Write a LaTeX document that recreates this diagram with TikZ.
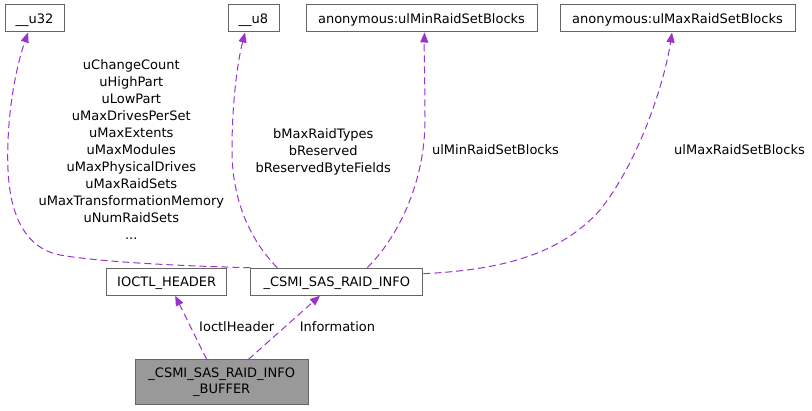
\documentclass[tikz,border=0pt]{standalone}
\usepackage{fontspec}
\setmainfont{DejaVu Sans}
\usetikzlibrary{arrows.meta,positioning}
\definecolor{edgepurple}{RGB}{154,50,205}
\definecolor{boxgray}{RGB}{102,102,102}
\definecolor{fillgray}{RGB}{153,153,153}

\begin{document}
\begin{tikzpicture}[x=1pt,y=-1pt,every node/.style={font=\fontsize{13}{17}\selectfont},
  cls/.style={draw=boxgray,line width=1pt,inner sep=0pt,minimum height=27pt,text height=9.5pt,text depth=0pt},
  rel/.style={draw=edgepurple,line width=1pt,dash pattern=on 7pt off 4pt,-{Triangle[length=10pt,width=8pt,fill=edgepurple]}},
  lbl/.style={inner sep=0pt,align=center}]
  \useasboundingbox (0,0) rectangle (812,411);
  % Member types
  \node[cls,minimum width=59pt] (u32) at (34.5,18.5) {\_\_u32};
  \node[cls,minimum width=51pt] (u8) at (253.5,18.5) {\_\_u8};
  \node[cls,minimum width=231pt] (umin) at (421.5,18.5) {anonymous:ulMinRaidSetBlocks};
  \node[cls,minimum width=235pt] (umax) at (677.5,18.5) {anonymous:ulMaxRaidSetBlocks};
  % Structs
  \node[cls,minimum width=120pt] (ioctl) at (166.7,281.7) {IOCTL\_HEADER};
  \node[cls,minimum width=172pt] (info) at (336.8,281.7) {\_CSMI\_SAS\_RAID\_INFO};
  \node[draw=boxgray,fill=fillgray,line width=1pt,inner sep=0pt,minimum width=173pt,minimum height=45pt,
    align=center,font=\fontsize{13}{16}\selectfont] (buf) at (221.7,382.5) {\_CSMI\_SAS\_RAID\_INFO\\\_BUFFER};
  % Edge labels
  \node[lbl] (l32) at (131.3,150) {uChangeCount\\uHighPart\\uLowPart\\uMaxDrivesPerSet\\uMaxExtents\\uMaxModules\\uMaxPhysicalDrives\\uMaxRaidSets\\uMaxTransformationMemory\\uNumRaidSets\\...};
  \node[lbl] (l8) at (323.3,151.5) {bMaxRaidTypes\\bReserved\\bReservedByteFields};
  \node[lbl] (lmin) at (495.5,150) {ulMinRaidSetBlocks};
  \node[lbl] (lmax) at (739.5,150) {ulMaxRaidSetBlocks};
  \node[lbl] (lhdr) at (236.7,326.7) {IoctlHeader};
  \node[lbl] (linfo) at (337.5,326.7) {Information};
  % Relations
  \draw[rel] ([xshift=-15pt]buf.north) -- ([xshift=8.5pt]ioctl.south);
  \draw[rel] ([xshift=26.6pt]buf.north) -- ([xshift=-16.8pt]info.south);
  \draw[rel] (info.north west) .. controls (180,266) and (100,262) .. (60,255)
    .. controls (25,248) and (10,215) .. (8,170) .. controls (6,120) and (15,70) .. ([xshift=-6.5pt]u32.south);
  \draw[rel] ([xshift=27pt]info.north west) .. controls (250,240) and (232,200) .. (232,150)
    .. controls (232,100) and (238,60) .. ([xshift=-8.5pt]u8.south);
  \draw[rel] ([xshift=117pt]info.north west) .. controls (400,235) and (425,180) .. (425,120)
    .. controls (425,80) and (424,55) .. ([xshift=3pt]umin.south);
  \draw[rel] ([yshift=8pt]info.east) .. controls (500,270) and (560,255) .. (600,210)
    .. controls (640,160) and (665,80) .. ([xshift=-5.5pt]umax.south);
\end{tikzpicture}
\end{document}
